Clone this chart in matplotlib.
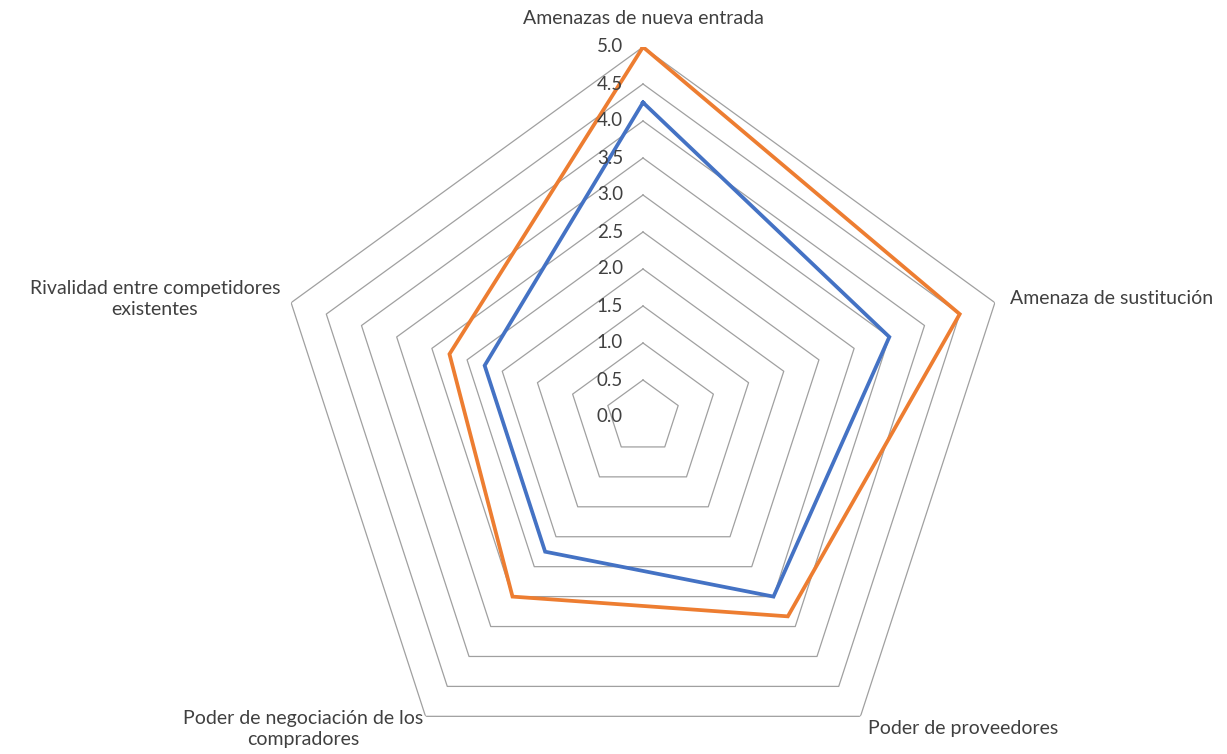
import numpy as np
import matplotlib
matplotlib.use("Agg")
import matplotlib.pyplot as plt
from matplotlib.transforms import offset_copy

plt.rcParams['font.family'] = ['Lato', 'DejaVu Sans']

# categories (clockwise from the top) and the two series
categories = ["Amenazas de nueva entrada",
              "Amenaza de sustitución",
              "Poder de proveedores",
              "Poder de negociación de los\ncompradores",
              "Rivalidad entre competidores\nexistentes"]
serie_azul = [4.25, 3.5, 3.0, 2.25, 2.25]
serie_naranja = [5.0, 4.5, 3.33, 3.0, 2.75]
ring_values = [0.0, 0.5, 1.0, 1.5, 2.0, 2.5, 3.0, 3.5, 4.0, 4.5, 5.0]

text_color = "#404040"
grid_color = "#a0a0a0"

n = len(categories)
angles = np.linspace(0, 2 * np.pi, n, endpoint=False)
closed = np.append(angles, angles[0])

fig = plt.figure(figsize=(12.27, 7.54), dpi=100)
# centre of the chart at about (643, 417) px, radius about 370 px
cx, cy, rad = 643 / 1227, 1 - 417 / 754, 370
ax = fig.add_axes([cx - rad / 1227, cy - rad / 754, 2 * rad / 1227, 2 * rad / 754],
                  projection="polar")
ax.set_theta_offset(np.pi / 2)
ax.set_theta_direction(-1)
ax.set_ylim(0, 5)
ax.grid(False)
ax.spines["polar"].set_visible(False)
ax.set_xticks([])
ax.set_yticks([])
ax.patch.set_alpha(0)

# pentagon gridlines
for v in ring_values[1:]:
    ax.plot(closed, [v] * (n + 1), color=grid_color, lw=0.9, zorder=1)

# series
ax.plot(closed, serie_azul + serie_azul[:1], color="#4472C4", lw=2.7,
        solid_joinstyle="miter", zorder=3)
ax.plot(closed, serie_naranja + serie_naranja[:1], color="#ED7D31", lw=2.7,
        solid_joinstyle="miter", zorder=4)

# value labels along the top spoke
tick_tr = offset_copy(ax.transData, fig=fig, x=-20, y=0, units="dots")
for v in ring_values:
    ax.text(0, v, f"{v:.1f}", transform=tick_tr, ha="right", va="center",
            fontsize=13.5, color=text_color, zorder=5)

# category labels
label_offsets = [(0, 29, "center", "center"),
                 (15, 4, "left", "center"),
                 (8, -12, "left", "center"),
                 (-2, -13, "right", "center"),
                 (-11, 4, "right", "center")]
for ang, lab, (dx, dy, ha, va) in zip(angles, categories, label_offsets):
    tr = offset_copy(ax.transData, fig=fig, x=dx, y=dy, units="dots")
    ax.text(ang, 5, lab, transform=tr, ha=ha, va=va, fontsize=14,
            color=text_color, multialignment="center", linespacing=1.3)

fig.savefig("out.png", dpi=100)
